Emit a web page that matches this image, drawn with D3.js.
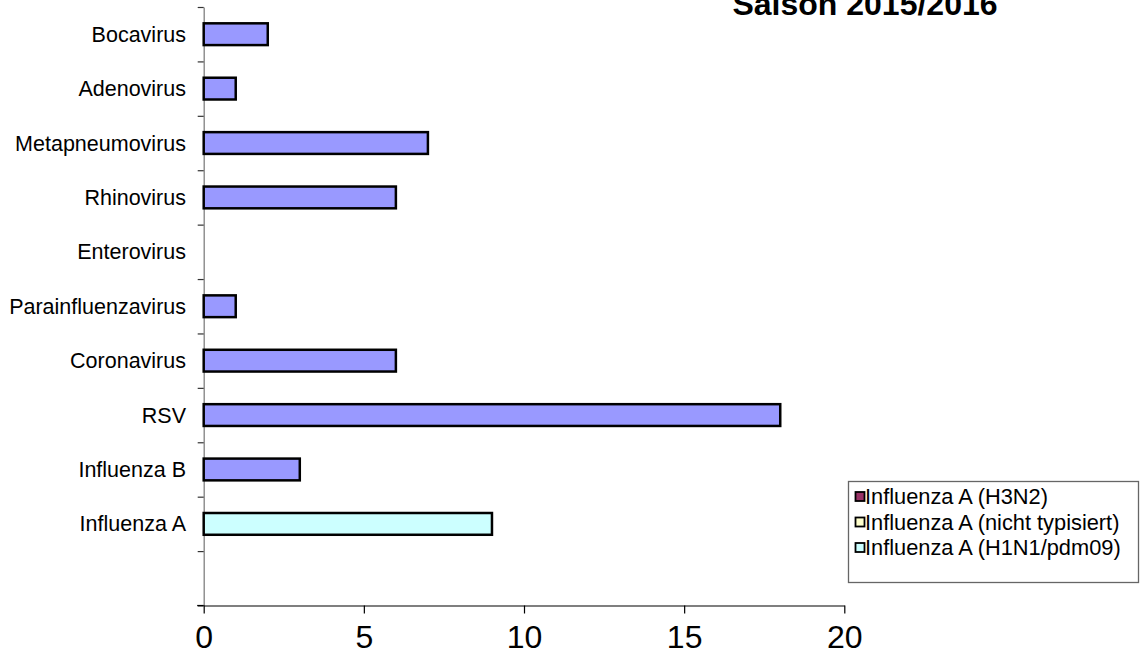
<!DOCTYPE html>
<html>
<head>
<meta charset="utf-8">
<script src="https://cdn.jsdelivr.net/npm/d3@7"></script>
<style>
  html, body { margin: 0; padding: 0; background: #fff; }
  svg { display: block; font-family: Arial, "Liberation Sans", sans-serif; }
</style>
</head>
<body>
<svg id="chart" width="1144" height="657"></svg>
<script>
// ---- data (bottom to top, first slot is the empty row) ----
const categories = ["", "Influenza A", "Influenza B", "RSV", "Coronavirus",
  "Parainfluenzavirus", "Enterovirus", "Rhinovirus", "Metapneumovirus",
  "Adenovirus", "Bocavirus"];
const totalValues = [null, null, 3, 18, 6, 1, 0, 6, 7, 1, 2];
const fluAKeys = ["Influenza A (H3N2)", "Influenza A (nicht typisiert)", "Influenza A (H1N1/pdm09)"];
const fluAValues = [0, 0, 9];
const fluAColors = ["#993366", "#FFFFCC", "#CCFFFF"];
const xTicks = [0, 5, 10, 15, 20];
const title = "Saison 2015/2016";

const svg = d3.select("#chart");

const x = d3.scaleLinear().domain([0, 20]).range([203.7, 844.3]);
const yEdge = d3.scaleLinear().domain([0, categories.length]).range([605.5, 7]);
const y = d3.scaleBand().domain(categories.map((c, i) => i))
  .range([605.5, 7]).paddingInner(0.6).paddingOuter(0.3);

// title
svg.append("text").attr("x", 865).attr("y", 15).attr("text-anchor", "middle")
  .attr("font-size", 32).attr("font-weight", "bold").attr("fill", "#000").text(title);

// y axis
const yAx = svg.append("g").attr("transform", `translate(${x(0)},0)`)
  .call(d3.axisLeft(yEdge).tickValues(d3.range(categories.length + 1))
    .tickSize(6).tickSizeOuter(0).tickFormat(""));
yAx.select(".domain").attr("stroke", "#808080").attr("stroke-width", 1.3);
yAx.selectAll(".tick line").attr("stroke", "#333").attr("stroke-width", 1.2);

// y labels
svg.append("g").selectAll("text").data(categories).join("text")
  .attr("x", 186).attr("y", (d, i) => y(i) + y.bandwidth() / 2)
  .attr("dy", "0.35em").attr("text-anchor", "end")
  .attr("font-size", 21.5).attr("fill", "#000").text(d => d);

// x axis
const xAx = svg.append("g").attr("transform", `translate(0,${yEdge(0)})`)
  .call(d3.axisBottom(x).tickValues(xTicks).tickSize(8).tickSizeOuter(0).tickPadding(12));
xAx.select(".domain").attr("stroke", "#000").attr("stroke-width", 1.2);
xAx.selectAll(".tick line").attr("stroke", "#000").attr("stroke-width", 1.2);
xAx.selectAll(".tick text").attr("font-size", 32).attr("font-family", "Arial, 'Liberation Sans', sans-serif").attr("fill", "#000");
xAx.append("line").attr("x1", x(0) - 6.5).attr("x2", x(0)).attr("y1", 0).attr("y2", 0)
  .attr("stroke", "#000").attr("stroke-width", 1.2);

// single-series bars
const barData = totalValues.map((v, i) => ({ i, v })).filter(d => d.v);
svg.append("g").selectAll("rect").data(barData).join("rect")
  .attr("x", x(0)).attr("y", d => y(d.i))
  .attr("width", d => x(d.v) - x(0)).attr("height", y.bandwidth())
  .attr("fill", "#9999FF").attr("stroke", "#000").attr("stroke-width", 2.5);

// stacked Influenza A
const fluRow = {}; fluAKeys.forEach((k, j) => fluRow[k] = fluAValues[j]);
const stacked = d3.stack().keys(fluAKeys)([fluRow]);
const fluIndex = categories.indexOf("Influenza A");
svg.append("g").selectAll("rect").data(stacked.filter(s => s[0][1] - s[0][0] > 0)).join("rect")
  .attr("x", s => x(s[0][0])).attr("y", y(fluIndex))
  .attr("width", s => x(s[0][1]) - x(s[0][0])).attr("height", y.bandwidth())
  .attr("fill", s => fluAColors[fluAKeys.indexOf(s.key)])
  .attr("stroke", "#000").attr("stroke-width", 2.5);

// legend
const lg = svg.append("g");
lg.append("rect").attr("x", 848.5).attr("y", 481.5).attr("width", 290).attr("height", 101)
  .attr("fill", "#fff").attr("stroke", "#666").attr("stroke-width", 1.3);
const rowsY = [496.5, 522, 547.5];
fluAKeys.forEach((k, j) => {
  lg.append("rect").attr("x", 855.5).attr("y", rowsY[j] - 4.5).attr("width", 9).attr("height", 9)
    .attr("fill", fluAColors[j]).attr("stroke", "#000").attr("stroke-width", 1.8);
  lg.append("text").attr("x", 865).attr("y", rowsY[j]).attr("dy", "0.35em")
    .attr("font-size", 21.8).attr("fill", "#000").text(k);
});
</script>
</body>
</html>
